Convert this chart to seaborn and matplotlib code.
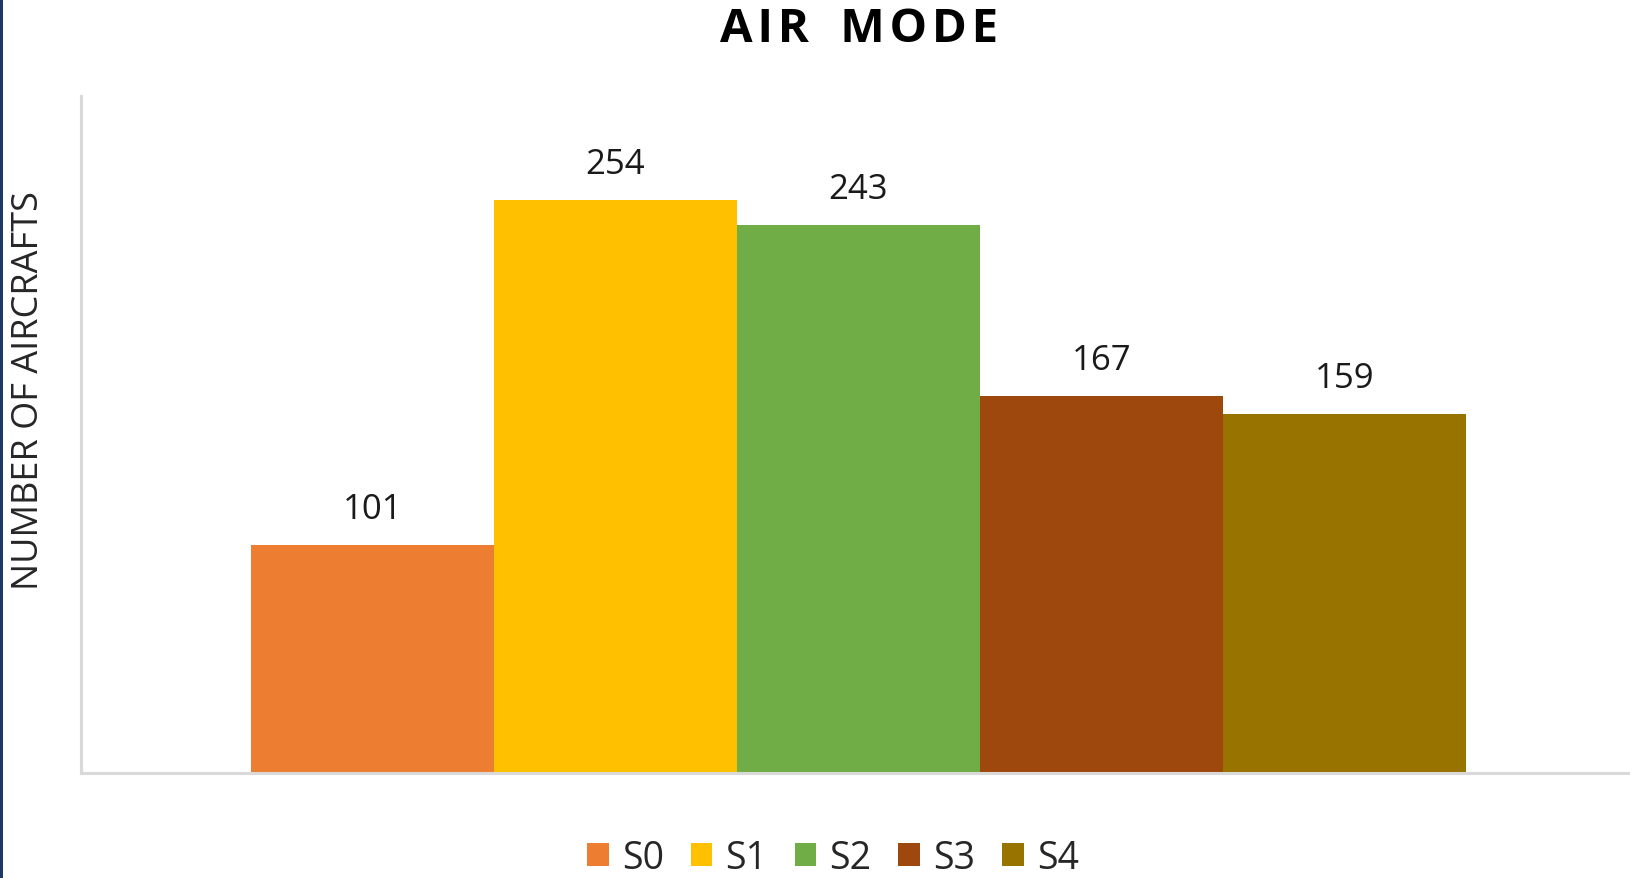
import pandas as pd
import numpy as np
import matplotlib.pyplot as plt
import matplotlib.patches as mpatches
import seaborn as sns

# values
scenarios = ['S0', 'S1', 'S2', 'S3', 'S4']
aircrafts = [101, 254, 243, 167, 159]
colors = ['#ED7D31', '#FFC000', '#70AD47', '#9E480E', '#997300']

df = pd.DataFrame({'scenario': scenarios, 'aircraft': aircrafts})

sns.set_style('white')
plt.rcParams['font.family'] = ['Open Sans', 'DejaVu Sans']

fig = plt.figure(figsize=(16.31, 8.79), dpi=100)
ax = fig.add_axes([81 / 1631, 1 - 774 / 879, 1 - 81 / 1631, (774 - 97) / 879])

sns.barplot(data=df, x='scenario', y='aircraft', hue='scenario',
            palette=colors, width=1, saturation=1, legend=False,
            linewidth=0, edgecolor='none', ax=ax)

for c in ax.containers:
    ax.bar_label(c, fmt='%d', padding=13.5, fontsize=25, color='#1a1a1a')

ax.set_xlim(-1.2, 5.18)
ax.set_ylim(0, 300)
ax.set_xticks([])
ax.set_yticks([])
ax.set_xlabel('')
ax.set_ylabel('')

# grey axis lines like the office chart
for side in ['top', 'right']:
    ax.spines[side].set_visible(False)
for side in ['left', 'bottom']:
    ax.spines[side].set_color('#D9D9D9')
    ax.spines[side].set_linewidth(2.2)

# spaced-out bold title (hair spaces between letters)
title = '\u200a\u200a \u200a\u200a'.join('\u200a'.join(w) for w in 'AIR MODE'.split())
fig.text(859 / 1631, 1 - 29 / 879, title,
         ha='center', va='center', fontsize=34, fontweight='bold', color='black')

fig.text(29 / 1631, 1 - 391 / 879, 'NUMBER OF AIRCRAFTS', rotation=90,
         ha='center', va='center', fontsize=26, color='#262626')

handles = [mpatches.Patch(facecolor=col, edgecolor='none', label=s)
           for s, col in zip(scenarios, colors)]
fig.legend(handles=handles, loc='center', bbox_to_anchor=(833 / 1631, 1 - 859 / 879),
           ncol=5, frameon=False, fontsize=27, handlelength=0.58, handleheight=0.58,
           handletextpad=0.35, columnspacing=0.72, borderaxespad=0)

# thin dark border on left edge
fig.add_artist(mpatches.Rectangle((0, 0), 3 / 1631, 1, transform=fig.transFigure,
                                  facecolor='#1F3864', edgecolor='none'))

fig.savefig('out.png', dpi=100)
